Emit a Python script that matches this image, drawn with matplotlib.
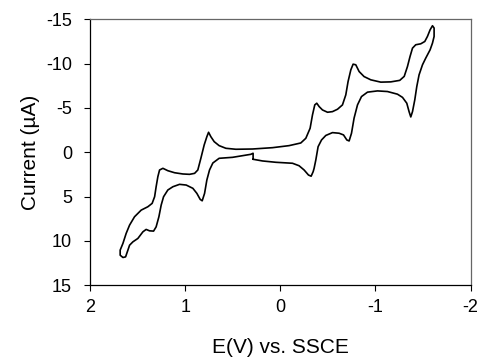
import numpy as np
import matplotlib.pyplot as plt

plt.rcParams['font.family'] = ['Liberation Sans', 'DejaVu Sans']
plt.rcParams['axes.unicode_minus'] = False

# potential (V vs SSCE) and current (uA), one closed scan,
# starting at the small step near 0.29 V
potential = [0.286, 0.187, 0.047, -0.128, -0.197, -0.250, -0.296, -0.324, -0.345, -0.355,
             -0.373, -0.397, -0.433, -0.478, -0.548, -0.618, -0.664, -0.699, -0.723, -0.748,
             -0.775, -0.811, -0.853, -0.916, -1.021, -1.126, -1.231, -1.284, -1.329, -1.353,
             -1.371, -1.389, -1.413, -1.434, -1.458, -1.494, -1.528, -1.574, -1.599, -1.616,
             -1.616, -1.599, -1.574, -1.546, -1.518, -1.476, -1.423, -1.389, -1.363, -1.336,
             -1.302, -1.255, -1.161, -1.056, -0.951, -0.880, -0.828, -0.793, -0.765, -0.741,
             -0.712, -0.688, -0.653, -0.601, -0.548, -0.496, -0.443, -0.408, -0.383, -0.362,
             -0.338, -0.313, -0.268, -0.215, -0.092, 0.082, 0.292, 0.467, 0.572, 0.643,
             0.695, 0.730, 0.754, 0.772, 0.800, 0.835, 0.867, 0.901, 0.954, 1.024,
             1.111, 1.182, 1.234, 1.269, 1.287, 1.305, 1.321, 1.347, 1.392, 1.462,
             1.532, 1.584, 1.620, 1.654, 1.683, 1.683, 1.654, 1.626, 1.602, 1.584,
             1.549, 1.497, 1.444, 1.410, 1.374, 1.332, 1.305, 1.276, 1.252, 1.227,
             1.182, 1.129, 1.059, 0.989, 0.919, 0.877, 0.842, 0.821, 0.796, 0.772,
             0.744, 0.709, 0.643, 0.502, 0.397, 0.310, 0.286, 0.286]
current = [0.79, 0.98, 1.13, 1.24, 1.52, 2.00, 2.57, 2.70, 2.19, 1.81,
           0.87, -0.63, -1.39, -1.90, -2.22, -2.15, -1.96, -1.39, -1.28, -2.15,
           -3.85, -5.35, -6.29, -6.79, -6.93, -6.86, -6.56, -6.20, -5.54, -4.59,
           -3.99, -4.59, -5.92, -7.42, -8.74, -9.88, -10.63, -11.57, -12.33, -13.08,
           -14.03, -14.29, -13.83, -13.08, -12.51, -12.25, -12.14, -11.76, -10.81, -9.68,
           -8.57, -8.12, -7.95, -7.92, -8.18, -8.55, -9.12, -9.88, -9.95, -9.31,
           -7.99, -6.48, -5.35, -4.86, -4.59, -4.52, -4.78, -5.16, -5.54, -5.35,
           -4.22, -2.71, -1.58, -1.05, -0.75, -0.52, -0.37, -0.34, -0.45, -0.75,
           -1.20, -1.76, -2.26, -1.76, -0.83, 0.68, 2.00, 2.38, 2.49, 2.45,
           2.31, 2.08, 1.81, 2.00, 2.76, 3.89, 5.02, 5.77, 6.15, 6.53,
           7.28, 8.22, 9.16, 10.29, 11.05, 11.62, 11.88, 11.81, 11.05, 10.49,
           10.11, 9.73, 8.98, 8.71, 8.87, 8.90, 8.42, 7.28, 5.96, 5.02,
           4.26, 3.89, 3.62, 3.70, 4.07, 4.64, 5.32, 5.48, 4.64, 3.13,
           2.00, 1.21, 0.68, 0.57, 0.38, 0.23, 0.11, 0.79]

x_ticks = [2, 1, 0, -1, -2]
y_ticks = [-15, -10, -5, 0, 5, 10, 15]

fig = plt.figure(figsize=(4.8, 3.6), dpi=100)
ax = fig.add_axes([0.1875, 0.208, 0.793, 0.738])
ax.plot(potential, current, color='black', linewidth=1.2,
        solid_joinstyle='round', solid_capstyle='round')

ax.set_xlim(2, -2)
ax.set_ylim(15, -15)
ax.set_xticks(x_ticks)
ax.set_yticks(y_ticks)
ax.set_xticklabels([str(t) for t in x_ticks])
ax.set_yticklabels([str(t) for t in y_ticks])
ax.tick_params(direction='out', length=4, width=0.8, labelsize=13, colors='black')
ax.tick_params(axis='y', pad=9)
ax.tick_params(axis='x', pad=6)

for side in ['left', 'bottom']:
    ax.spines[side].set_color('black')
    ax.spines[side].set_linewidth(0.9)
for side in ['top', 'right']:
    ax.spines[side].set_color('#666666')
    ax.spines[side].set_linewidth(0.9)

ax.set_xlabel('E(V) vs. SSCE', fontsize=15, labelpad=16)
ax.set_ylabel('Current (\u00b5A)', fontsize=15, labelpad=4)

fig.savefig('out.png', dpi=100)
